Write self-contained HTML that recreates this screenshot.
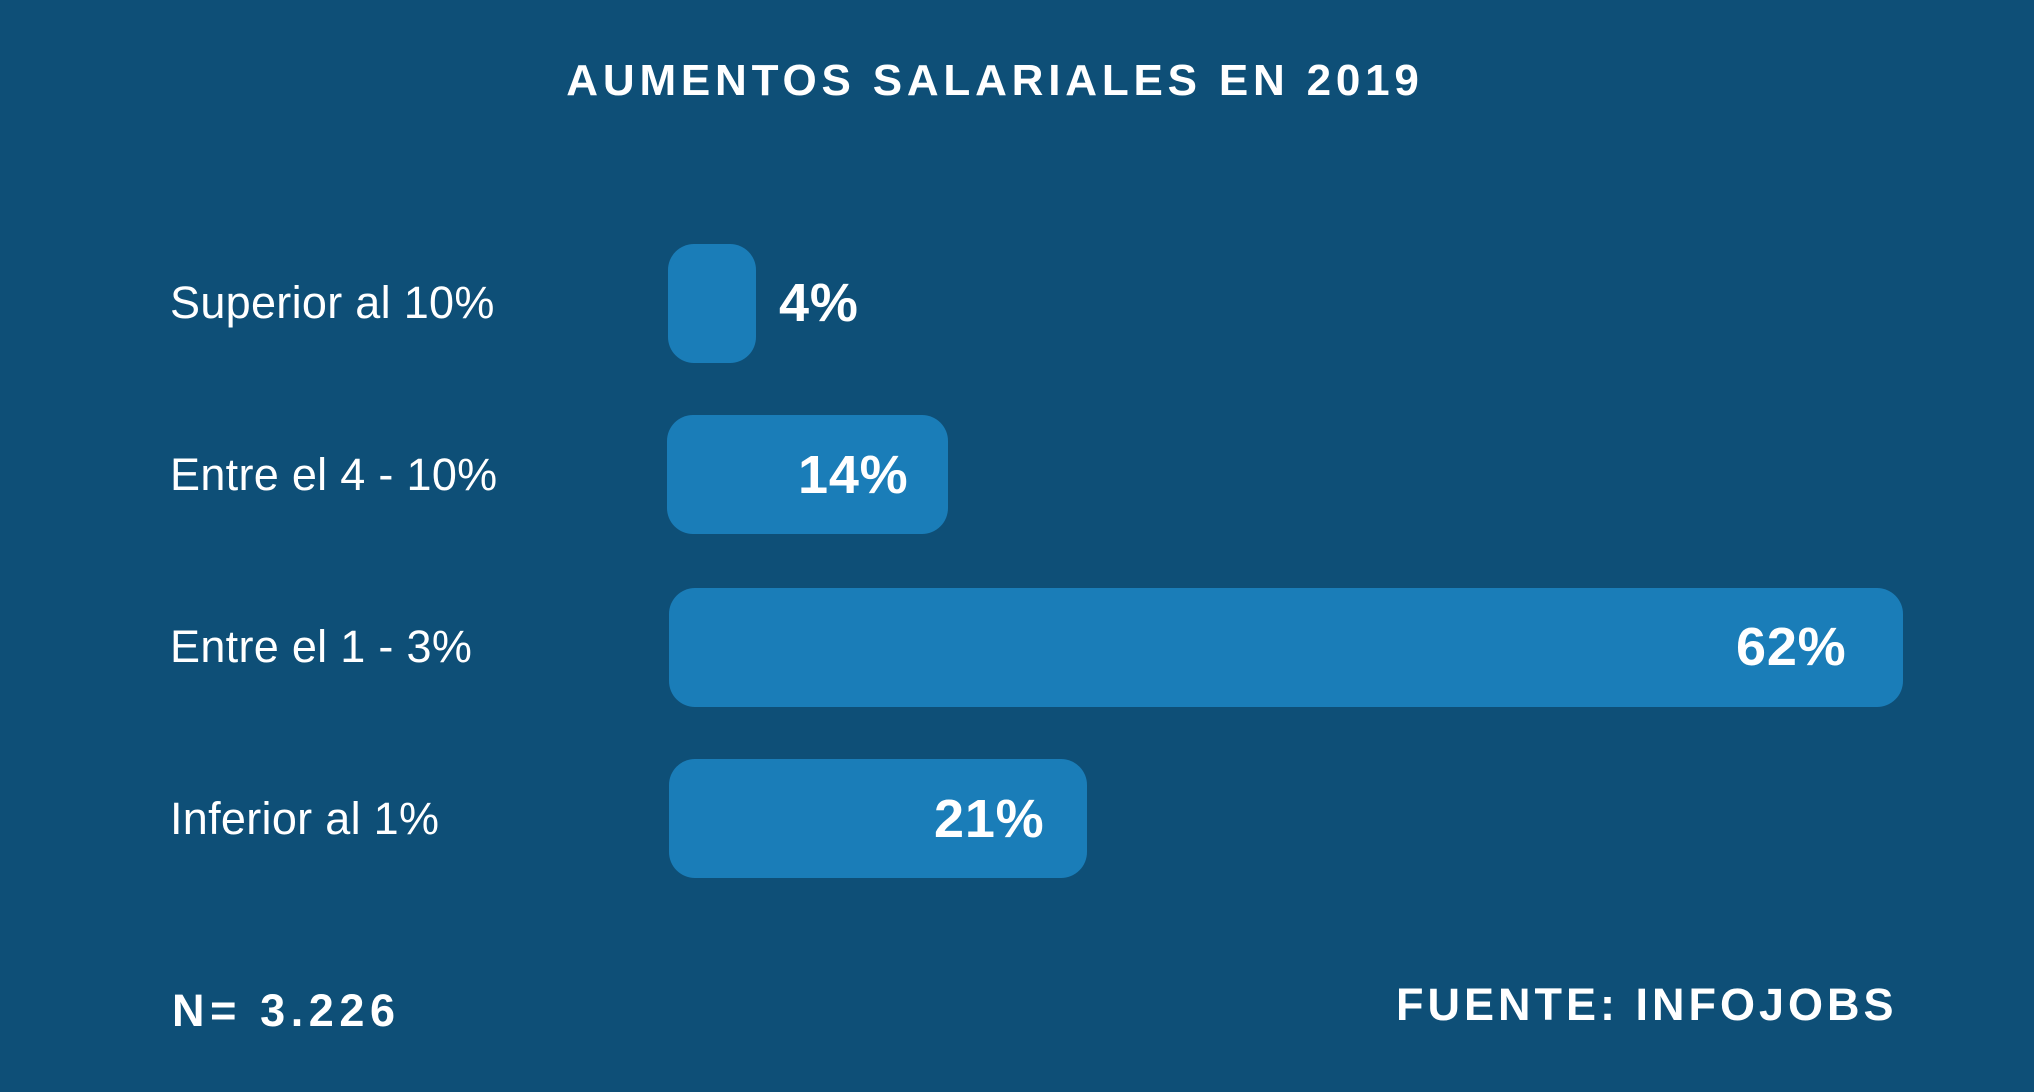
<!DOCTYPE html>
<html><head><meta charset="utf-8"><style>
html,body{margin:0;padding:0}
body{width:2034px;height:1092px;background:#0e4f77;position:relative;overflow:hidden;font-family:"Liberation Sans",sans-serif;color:#fff}
.t{position:absolute;white-space:nowrap}
.title{left:0;width:1990px;text-align:center;top:56px;font-size:44px;font-weight:bold;letter-spacing:4.8px}
.lab{left:170px;font-size:45px;line-height:48px;letter-spacing:0.3px}
.bar{position:absolute;background:#1a7db8;border-radius:26px}
.val{font-size:54px;font-weight:bold;line-height:60px;letter-spacing:0.8px}
.foot{font-size:45px;font-weight:bold;letter-spacing:4px}
</style></head><body>
<div class="t title">AUMENTOS SALARIALES EN 2019</div>

<div class="t lab" style="top:279px">Superior al 10%</div>
<div class="bar" style="left:668px;top:244px;width:88px;height:119px"></div>
<div class="t val" style="left:779px;top:273px">4%</div>

<div class="t lab" style="top:451px">Entre el 4 - 10%</div>
<div class="bar" style="left:667px;top:415px;width:281px;height:119px"></div>
<div class="t val" style="left:798px;top:445px">14%</div>

<div class="t lab" style="top:623px">Entre el 1 - 3%</div>
<div class="bar" style="left:669px;top:588px;width:1234px;height:119px"></div>
<div class="t val" style="left:1736px;top:617px">62%</div>

<div class="t lab" style="top:795px">Inferior al 1%</div>
<div class="bar" style="left:669px;top:759px;width:418px;height:119px"></div>
<div class="t val" style="left:934px;top:789px">21%</div>

<div class="t foot" style="left:172px;top:985px;letter-spacing:5.6px">N= 3.226</div>
<div class="t foot" style="left:1396px;top:979px">FUENTE: INFOJOBS</div>
</body></html>
